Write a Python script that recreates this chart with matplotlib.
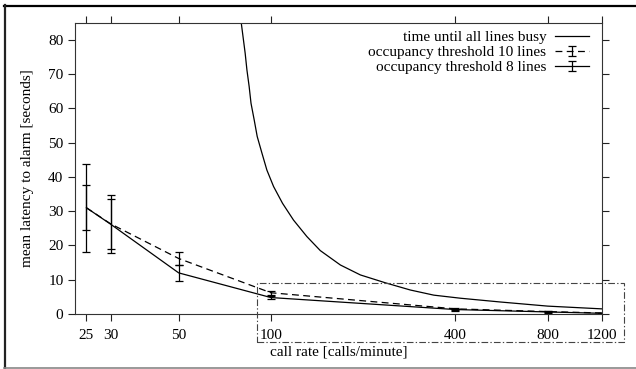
import matplotlib
matplotlib.use('Agg')
import matplotlib.pyplot as plt
from matplotlib.lines import Line2D
from matplotlib.patches import Rectangle
from matplotlib.ticker import NullLocator
from matplotlib.legend_handler import HandlerErrorbar

plt.rcParams['font.family'] = ['Liberation Serif', 'DejaVu Serif']
plt.rcParams['font.size'] = 11

# measured latencies per call rate
rates = [25, 30, 50, 100, 400, 800, 1200]
lat10 = [31.0, 26.3, 16.2, 6.2, 1.5, 0.7, 0.3]
err10 = [6.5, 7.3, 2.0, 0.6, 0.3, 0.2, 0.1]
lat8 = [31.0, 26.2, 12.0, 4.8, 1.3, 0.6, 0.2]
err8 = [12.9, 8.4, 2.4, 0.4, 0.3, 0.2, 0.1]

# time until all lines busy
busy_rate = [80.0, 82.4, 83.5, 84.9, 86.1, 88.2, 90.2, 93.5, 97.0, 102.0,
             109.1, 118.5, 131.0, 144.9, 168.5, 195.8, 236.3, 285.0,
             340.0, 415.6, 561.0, 800.0, 1200.0]
busy_time = [85.0, 76.1, 71.2, 66.4, 61.5, 56.6, 51.8, 46.9, 42.0, 37.2,
             32.3, 27.4, 22.6, 18.5, 14.3, 11.4, 9.1, 7.0,
             5.5, 4.6, 3.5, 2.3, 1.5]

W, H = 636, 369
fig = plt.figure(figsize=(W / 100, H / 100), dpi=100)

ax = fig.add_axes([75.3 / W, 1 - 314 / H, (601.7 - 75.3) / W, (314 - 22.7) / H])

busy, = ax.plot(busy_rate, busy_time, color='black', lw=0.9)
e10 = ax.errorbar(rates, lat10, yerr=err10, color='black', lw=0.9,
                  elinewidth=0.9, capsize=2.6, capthick=0.9, dashes=(5.5, 3.5))
e8 = ax.errorbar(rates, lat8, yerr=err8, color='black', lw=0.9,
                 elinewidth=0.9, capsize=2.6, capthick=0.9)

ax.set_xscale('log')
ax.set_xlim(23, 1200)
ax.set_ylim(0, 85)
ax.set_xticks(rates)
ax.set_xticklabels([str(r) for r in rates])
ax.xaxis.set_minor_locator(NullLocator())
ax.set_yticks(range(0, 81, 10))
ax.tick_params(direction='out', length=5, width=0.8, top=True, right=True,
               pad=3.5, colors='#222222', labelcolor='black')
ax.tick_params(axis='x', pad=5.5)
for s in ax.spines.values():
    s.set_linewidth(0.8)
    s.set_color('#333333')

ax.legend([busy, e10, e8],
          ['time until all lines busy', 'occupancy threshold 10 lines',
           'occupancy threshold 8 lines'],
          loc='upper right', bbox_to_anchor=(589 / W, 1 - 30.5 / H),
          bbox_transform=fig.transFigure, frameon=False, markerfirst=False,
          handlelength=2.2, handletextpad=0.6, labelspacing=0.08,
          borderpad=0, borderaxespad=0,
          handler_map={type(e8): HandlerErrorbar(yerr_size=0.33)})

fig.text(28 / W, 1 - 168.5 / H, 'mean latency to alarm [seconds]',
         rotation=90, ha='center', va='center')
fig.text(339 / W, 1 - 352 / H, 'call rate [calls/minute]', ha='center', va='center')

# dash-dotted zoom box around the low-latency region
fig.patches.append(Rectangle((257.3 / W, 1 - 341.7 / H), (624.3 - 257.3) / W,
                             (341.7 - 283.3) / H, fill=False, ec='#444444', lw=0.8,
                             ls=(0, (6, 2, 1.2, 2)), transform=fig.transFigure))

# outer frame
fig.lines.append(Line2D([4 / W, 1], [1 - 5.5 / H] * 2, color='black', lw=1.6,
                        transform=fig.transFigure))
fig.lines.append(Line2D([4.5 / W] * 2, [1 - 368 / H, 1 - 5 / H], color='#222222',
                        lw=1.6, transform=fig.transFigure))
fig.lines.append(Line2D([4 / W, 1], [1 - 368 / H] * 2, color='#888888', lw=1.2,
                        transform=fig.transFigure))

fig.savefig('out.png', dpi=100)
